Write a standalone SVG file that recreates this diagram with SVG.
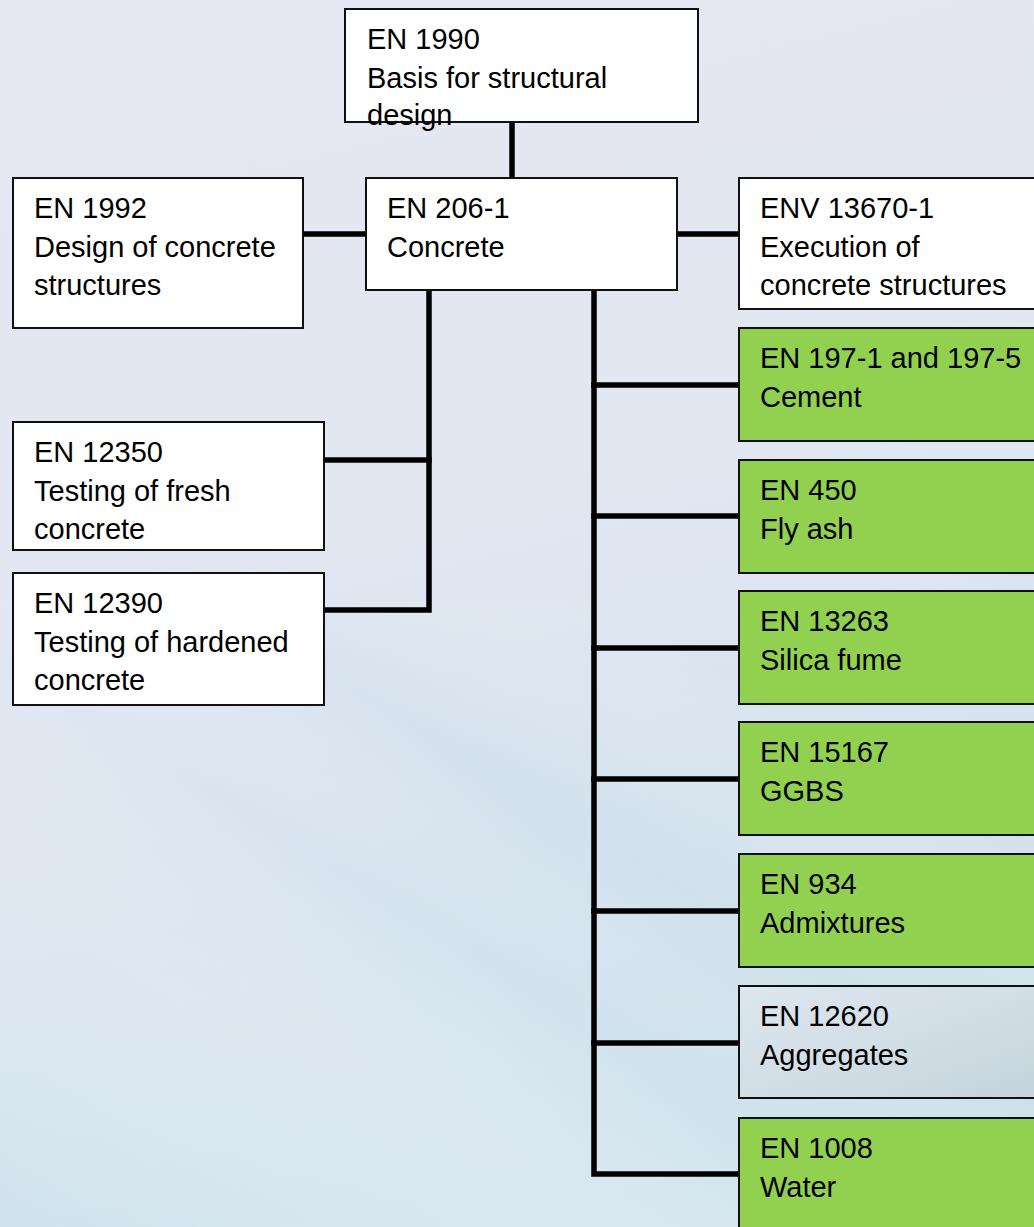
<svg xmlns="http://www.w3.org/2000/svg" width="1034" height="1227" viewBox="0 0 1034 1227">
  <defs>
    <linearGradient id="bg" x1="0.3" y1="0" x2="0.5" y2="1">
      <stop offset="0" stop-color="#e5e8f3"/>
      <stop offset="0.4" stop-color="#e3e7f2"/>
      <stop offset="0.7" stop-color="#d6e3ee"/>
      <stop offset="1" stop-color="#cde3ec"/>
    </linearGradient>
    <linearGradient id="streak" x1="0" y1="1" x2="1" y2="0">
      <stop offset="0" stop-color="#ffffff" stop-opacity="0"/>
      <stop offset="0.3" stop-color="#eeeef7" stop-opacity="0.35"/>
      <stop offset="0.45" stop-color="#ffffff" stop-opacity="0"/>
      <stop offset="0.6" stop-color="#c5dbe6" stop-opacity="0.25"/>
      <stop offset="0.8" stop-color="#ffffff" stop-opacity="0"/>
    </linearGradient>
    <linearGradient id="agg" x1="0" y1="0" x2="1" y2="1">
      <stop offset="0" stop-color="#dce6ee"/>
      <stop offset="0.5" stop-color="#d2dee6"/>
      <stop offset="1" stop-color="#c3d2db"/>
    </linearGradient>
  </defs>
  <style>
    .box { stroke: #111111; stroke-width: 2; }
    .white { fill: #ffffff; }
    .green { fill: #92d050; }
    .grey { fill: url(#agg); }
    .conn { stroke: #000000; stroke-width: 5.5; fill: none; stroke-linecap: square; }
    text { font-family: "Liberation Sans", Arial, sans-serif; font-size: 29px; fill: #000000; }
  </style>

  <rect x="0" y="0" width="1034" height="1227" fill="url(#bg)"/>
  <rect x="0" y="600" width="1034" height="627" fill="url(#streak)"/>

  <g id="connectors">
    <line class="conn" x1="512" y1="122" x2="512" y2="178"/>
    <line class="conn" x1="303" y1="234" x2="366" y2="234"/>
    <line class="conn" x1="677" y1="234" x2="739" y2="234"/>
    <polyline class="conn" points="429,291 429,610 325,610"/>
    <line class="conn" x1="325" y1="460" x2="429" y2="460"/>
    <polyline class="conn" points="594,291 594,1174 739,1174"/>
    <line class="conn" x1="594" y1="385" x2="739" y2="385"/>
    <line class="conn" x1="594" y1="516" x2="739" y2="516"/>
    <line class="conn" x1="594" y1="648" x2="739" y2="648"/>
    <line class="conn" x1="594" y1="779" x2="739" y2="779"/>
    <line class="conn" x1="594" y1="911" x2="739" y2="911"/>
    <line class="conn" x1="594" y1="1043" x2="739" y2="1043"/>
  </g>

  <g id="en1990">
    <rect class="box white" x="345" y="9" width="353" height="113"/>
    <text x="367" y="49">EN 1990<tspan x="367" y="87.5">Basis for structural</tspan><tspan x="367" y="125">design</tspan></text>
  </g>

  <g id="en206">
    <rect class="box white" x="366" y="178" width="311" height="112"/>
    <text x="387" y="218">EN 206-1<tspan x="387" y="256.5">Concrete</tspan></text>
  </g>

  <g id="en1992">
    <rect class="box white" x="13" y="178" width="290" height="150"/>
    <text x="34" y="218">EN 1992<tspan x="34" y="256.5">Design of concrete</tspan><tspan x="34" y="295">structures</tspan></text>
  </g>

  <g id="env13670">
    <rect class="box white" x="739" y="178" width="320" height="131"/>
    <text x="760" y="218">ENV 13670-1<tspan x="760" y="256.5">Execution of</tspan><tspan x="760" y="295">concrete structures</tspan></text>
  </g>

  <g id="en12350">
    <rect class="box white" x="13" y="422" width="311" height="128"/>
    <text x="34" y="462">EN 12350<tspan x="34" y="500.5">Testing of fresh</tspan><tspan x="34" y="539">concrete</tspan></text>
  </g>

  <g id="en12390">
    <rect class="box white" x="13" y="573" width="311" height="132"/>
    <text x="34" y="613">EN 12390<tspan x="34" y="651.5">Testing of hardened</tspan><tspan x="34" y="690">concrete</tspan></text>
  </g>

  <g id="en197">
    <rect class="box green" x="739" y="328" width="320" height="113"/>
    <text x="760" y="368">EN 197-1 and 197-5<tspan x="760" y="406.5">Cement</tspan></text>
  </g>

  <g id="en450">
    <rect class="box green" x="739" y="460" width="320" height="113"/>
    <text x="760" y="500">EN 450<tspan x="760" y="538.5">Fly ash</tspan></text>
  </g>

  <g id="en13263">
    <rect class="box green" x="739" y="591" width="320" height="113"/>
    <text x="760" y="631">EN 13263<tspan x="760" y="669.5">Silica fume</tspan></text>
  </g>

  <g id="en15167">
    <rect class="box green" x="739" y="722" width="320" height="113"/>
    <text x="760" y="762">EN 15167<tspan x="760" y="800.5">GGBS</tspan></text>
  </g>

  <g id="en934">
    <rect class="box green" x="739" y="854" width="320" height="113"/>
    <text x="760" y="894">EN 934<tspan x="760" y="932.5">Admixtures</tspan></text>
  </g>

  <g id="en12620">
    <rect class="box grey" x="739" y="986" width="320" height="112"/>
    <text x="760" y="1026">EN 12620<tspan x="760" y="1064.5">Aggregates</tspan></text>
  </g>

  <g id="en1008">
    <rect class="box green" x="739" y="1118" width="320" height="130"/>
    <text x="760" y="1158">EN 1008<tspan x="760" y="1196.5">Water</tspan></text>
  </g>
</svg>
